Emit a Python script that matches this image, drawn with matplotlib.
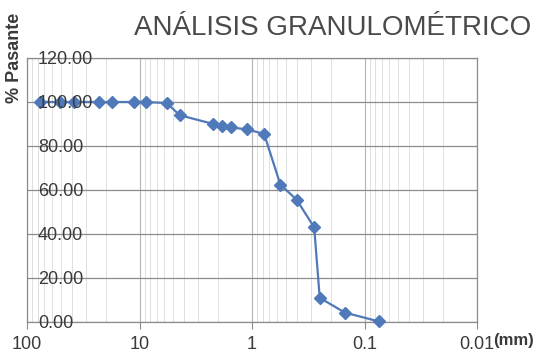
import matplotlib
matplotlib.use("Agg")
import matplotlib.pyplot as plt
from matplotlib.ticker import FixedLocator, LogLocator, NullFormatter

# Data (sieve opening in mm, % passing)
sizes_mm = [76.0, 51.0, 38.0, 23.0, 17.5, 11.3, 8.7, 5.7, 4.4, 2.2, 1.85, 1.55,
            1.1, 0.78, 0.56, 0.40, 0.28, 0.25, 0.15, 0.075]
pct_pass = [100, 100, 100, 100, 100, 100, 100, 99.5, 94, 90, 89, 88.5,
            87.5, 85.5, 62.5, 55.5, 43, 11, 4.3, 0.3]

x_ticks = [100, 10, 1, 0.1, 0.01]
x_tick_labels = ["100", "10", "1", "0.1", "0.01"]
y_ticks = [0, 20, 40, 60, 80, 100, 120]
y_tick_labels = ["%.2f" % v for v in y_ticks]

plt.rcParams['font.family'] = ['Liberation Sans', 'DejaVu Sans']

fig = plt.figure(figsize=(5.48, 3.61), dpi=100)
fig.patch.set_facecolor('white')
ax = fig.add_axes([27/548, 39/361, 450/548, 264/361])

ax.set_xscale('log')
ax.set_xlim(100, 0.01)
ax.set_ylim(0, 120)

ax.xaxis.set_major_locator(FixedLocator(x_ticks))
ax.xaxis.set_minor_locator(LogLocator(base=10, subs=range(2, 10)))
ax.xaxis.set_minor_formatter(NullFormatter())
ax.set_xticklabels(x_tick_labels)
ax.set_yticks(y_ticks)
ax.set_yticklabels([])

ax.grid(True, which='major', axis='y', color='#8c8c8c', lw=0.9)
ax.grid(True, which='major', axis='x', color='#b4b4b4', lw=0.8)
ax.grid(True, which='minor', axis='x', color='#dadada', lw=0.6)
ax.set_axisbelow(True)

for s in ax.spines.values():
    s.set_color('#8c8c8c')
    s.set_linewidth(0.9)

ax.tick_params(axis='x', which='major', length=5, color='#8c8c8c', pad=5,
               labelsize=13, labelcolor='#3a3a3a')
ax.tick_params(axis='x', which='minor', length=0)
ax.tick_params(axis='y', length=0)

ax.plot(sizes_mm, pct_pass, color='#4f79b8', lw=1.6, marker='D',
        markersize=6.5, markerfacecolor='#4f79b8', markeredgecolor='#4f79b8',
        zorder=3, clip_on=False)

# y tick labels drawn inside the plot, on top of the series
ytrans = ax.get_yaxis_transform()
for v, lab in zip(y_ticks, y_tick_labels):
    ax.text(0.024, v, lab, transform=ytrans, ha='left', va='center_baseline',
            fontsize=13, color='#3a3a3a', zorder=5, clip_on=False)

fig.text(333/548, 1 - 28/361, "ANÁLISIS GRANULOMÉTRICO", ha='center', va='center',
         fontsize=20, color='#4a4a4a')
fig.text(15/548, 1 - 58/361, "% Pasante", rotation=90, ha='center', va='center',
         fontsize=13, fontweight='bold', color='#3a3a3a')
fig.text(514/548, 1 - 341/361, "(mm)", ha='center', va='center',
         fontsize=12, fontweight='bold', color='#3a3a3a')

fig.savefig("out.png", dpi=100)
